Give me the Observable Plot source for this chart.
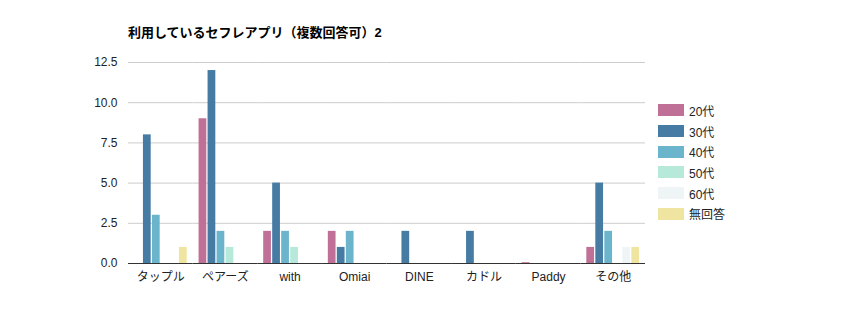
<!DOCTYPE html>
<html>
<head>
<meta charset="utf-8">
<script src="https://cdn.jsdelivr.net/npm/d3@7"></script>
<script src="https://cdn.jsdelivr.net/npm/@observablehq/plot@0.6"></script>
<style>
  html, body { margin: 0; padding: 0; background: #fff; }
  body { font-family: "Liberation Sans", Arial, "Noto Sans CJK JP", sans-serif; }
  #wrap { position: relative; width: 860px; height: 310px; }
  #title { height: 45px; box-sizing: border-box; padding: 25px 0 0 128px; font-size: 13px; font-weight: bold; color: #000; line-height: 15px; }
  #legend { position: absolute; left: 658px; top: 100px; font-size: 12px; color: #222; }
  .item { display: flex; align-items: center; height: 20.7px; }
  .sw { width: 26px; height: 12px; margin-right: 5px; }
</style>
</head>
<body>
<div id="wrap">
  <div id="title">利用しているセフレアプリ（複数回答可）2</div>
  <div id="chart"></div>
  <div id="legend"></div>
</div>
<script>
const categories = ["タップル", "ペアーズ", "with", "Omiai", "DINE", "カドル", "Paddy", "その他"];
const seriesNames = ["20代", "30代", "40代", "50代", "60代", "無回答"];
const colors = ["#c07096", "#467ba3", "#6ab4cc", "#b6e9d9", "#eff5f6", "#f0e5a0"];
const v20 = [0, 9, 2, 2, 0, 0, 0.05, 1];
const v30 = [8, 12, 5, 1, 2, 2, 0, 5];
const v40 = [3, 2, 2, 2, 0, 0, 0, 2];
const v50 = [0, 1, 1, 0, 0, 0, 0, 0];
const v60 = [0, 0, 0, 0, 0, 0, 0, 1];
const vNA = [1, 0, 0, 0, 0, 0, 0, 1];
const yTicks = [0, 2.5, 5, 7.5, 10, 12.5];

const seriesValues = [v20, v30, v40, v50, v60, vNA];
const data = [];
categories.forEach((c, i) => {
  seriesNames.forEach((s, j) => {
    data.push({category: c, series: s, value: seriesValues[j][i]});
  });
});

const chart = Plot.plot({
  width: 860,
  height: 265,
  marginTop: 17,
  marginBottom: 47,
  marginLeft: 128,
  marginRight: 215,
  style: {fontFamily: '"Liberation Sans", Arial, "Noto Sans CJK JP", sans-serif', fontSize: "12px", color: "#222", background: "#fff"},
  fx: {domain: categories, padding: 0, round: false, label: null, tickSize: 0, tickPadding: 9, axis: "bottom"},
  x: {domain: seriesNames, axis: null, round: false, paddingInner: 0.14, paddingOuter: 0.66},
  y: {domain: [0, 12.5], ticks: yTicks, tickFormat: d3.format(".1f"), label: null, tickSize: 0, tickPadding: 11, grid: false},
  color: {domain: seriesNames, range: colors},
  facet: {data, x: "category"},
  marks: [
    Plot.ruleY(yTicks.slice(1), {stroke: "#cccccc", strokeOpacity: 1}),
    Plot.barY(data, {x: "series", y: "value", fill: "series"}),
    Plot.ruleY([0], {stroke: "#333333", strokeWidth: 1})
  ]
});
chart.querySelectorAll("text").forEach(t => { t.setAttribute("fill", "#222"); });
document.getElementById("chart").appendChild(chart);

const legend = document.getElementById("legend");
seriesNames.forEach((s, i) => {
  const item = document.createElement("div");
  item.className = "item";
  const sw = document.createElement("div");
  sw.className = "sw";
  sw.style.background = colors[i];
  const lab = document.createElement("div");
  lab.textContent = s;
  item.appendChild(sw);
  item.appendChild(lab);
  legend.appendChild(item);
});
</script>
</body>
</html>
